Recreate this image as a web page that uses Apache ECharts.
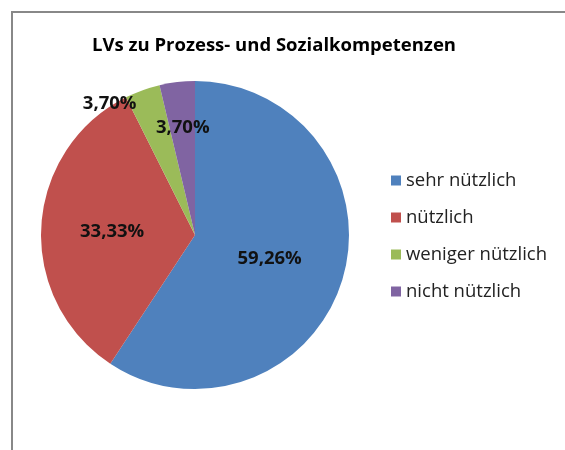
<!DOCTYPE html>
<html>
<head>
<meta charset="utf-8">
<script src="https://cdn.jsdelivr.net/npm/echarts@6/dist/echarts.min.js"></script>
<style>
  html, body { margin: 0; padding: 0; background: #fff; }
  #main { width: 565px; height: 450px; }
</style>
</head>
<body>
<div id="main"></div>
<script>
// Werte aus dem Diagramm
var titleText = "LVs zu Prozess- und Sozialkompetenzen";
var categories = ["sehr nützlich", "nützlich", "weniger nützlich", "nicht nützlich"];
var values = [59.26, 33.33, 3.70, 3.70];
var colors = ["#4F81BD", "#C0504D", "#9BBB59", "#8064A2"];

// Verschiebung der Beschriftungen (wie im Original)
var labelShift = [[-2, 1], [-3, 1], [-58, -56], [-3, -28]];

var chart = echarts.init(document.getElementById("main"));
var fontFam = "'Open Sans', sans-serif";

var option = {
  animation: false,
  title: {
    text: titleText,
    left: 269,
    textAlign: "center",
    top: 31,
    textStyle: { fontFamily: fontFam, fontSize: 18.5, fontWeight: "bold", color: "#000" }
  },
  legend: {
    orient: "vertical",
    left: 386,
    top: 165,
    icon: "rect",
    itemWidth: 10,
    itemHeight: 10,
    itemGap: 16,
    textStyle: { fontFamily: fontFam, fontSize: 18.5, color: "#222", lineHeight: 21 },
    data: categories
  },
  graphic: [{
    type: "rect",
    shape: { x: 12, y: 12, width: 700, height: 600 },
    style: { fill: "none", stroke: "#888", lineWidth: 2 },
    silent: true
  }],
  series: [{
    type: "pie",
    center: [195, 235],
    radius: 154,
    startAngle: 90,
    clockwise: true,
    avoidLabelOverlap: false,
    color: colors,
    label: {
      show: true,
      position: "inside",
      fontFamily: fontFam,
      fontSize: 18.5,
      fontWeight: "bold",
      color: "#111",
      formatter: function (p) {
        return p.value.toFixed(2).replace(".", ",") + "%";
      }
    },
    labelLine: { show: false },
    labelLayout: function (p) {
      var s = labelShift[p.dataIndex];
      return { dx: s[0], dy: s[1] };
    },
    emphasis: { disabled: true },
    data: categories.map(function (c, i) {
      return { name: c, value: values[i] };
    })
  }]
};

chart.setOption(option);
</script>
</body>
</html>
